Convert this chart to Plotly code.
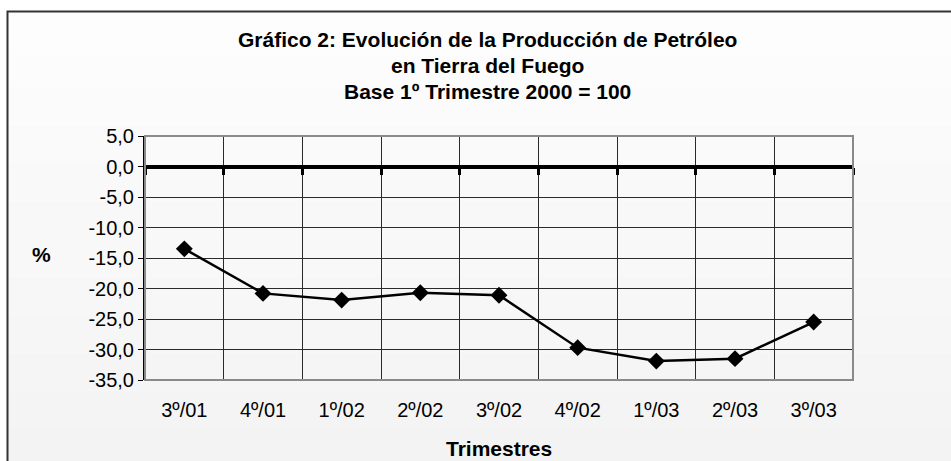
import numpy as np
import plotly.graph_objects as go

categories = ["3º/01", "4º/01", "1º/02", "2º/02", "3º/02", "4º/02", "1º/03", "2º/03", "3º/03"]
values = [-13.5, -20.8, -21.9, -20.7, -21.1, -29.7, -31.9, -31.5, -25.5]
y_ticks = [5, 0, -5, -10, -15, -20, -25, -30, -35]
y_tick_labels = ["5,0", "0,0", "-5,0", "-10,0", "-15,0", "-20,0", "-25,0", "-30,0", "-35,0"]
title_lines = ["Gráfico 2: Evolución de la Producción de Petróleo",
               "en Tierra del Fuego",
               "Base 1º Trimestre 2000 = 100"]
y_title = "%"
x_title = "Trimestres"

W, H = 951, 461
L, R, T, B = 145, 98, 136, 81
pw, ph = W - L - R, H - T - B

def px(xp):
    return (xp - L) / pw

def py(yp):
    return (H - B - yp) / ph

idx = np.arange(len(categories))
bounds = np.arange(len(categories) + 1) - 0.5
ymin, ymax = min(y_ticks), max(y_ticks)

FONT = "Liberation Sans, Arial, sans-serif"

fig = go.Figure()
fig.add_trace(go.Scatter(
    x=idx, y=values, mode="lines+markers",
    line=dict(color="black", width=2.5),
    marker=dict(symbol="diamond", size=13, color="black"),
    showlegend=False, hoverinfo="skip",
))
# invisible helper trace for the zero-line tick axis
fig.add_trace(go.Scatter(
    x=[0], y=[0], xaxis="x2", mode="markers",
    marker=dict(opacity=0), showlegend=False, hoverinfo="skip",
))

shapes = []
# background gradient inside outer frame
x0p, x1p = px(7), px(W + 5)
top_px, bot_px = 11, H + 5
n = 12
for i in range(n):
    ya = top_px + (bot_px - top_px) * i / n
    yb = top_px + (bot_px - top_px) * (i + 1) / n
    c = int(round(253 - 10 * (i + 0.5) / n))
    shapes.append(dict(type="rect", xref="paper", yref="paper",
                       x0=x0p, x1=x1p, y0=py(ya), y1=py(yb),
                       fillcolor=f"rgb({c},{c},{c})", line=dict(width=0),
                       layer="below"))
# outer frame
shapes.append(dict(type="rect", xref="paper", yref="paper",
                   x0=px(7.5), x1=px(W + 5), y0=py(11.5), y1=py(H + 5),
                   line=dict(color="#333333", width=2), layer="below"))
# plot area border (gray)
shapes.append(dict(type="rect", xref="paper", yref="paper",
                   x0=0, x1=1, y0=0, y1=1,
                   line=dict(color="#8a8a8a", width=2), layer="above"))

annotations = []
for i, t in enumerate(title_lines):
    annotations.append(dict(text=f"<b>{t}</b>", xref="paper", yref="paper",
                            x=px(487), y=py(39 + 26 * i), xanchor="center", yanchor="middle",
                            showarrow=False, font=dict(family=FONT, size=21, color="black")))
annotations.append(dict(text=f"<b>{y_title}</b>", xref="paper", yref="paper",
                        x=px(41), y=py(254), xanchor="center", yanchor="middle",
                        showarrow=False, font=dict(family=FONT, size=21, color="black")))
annotations.append(dict(text=f"<b>{x_title}</b>", xref="paper", yref="paper",
                        x=px(498.5), y=py(448), xanchor="center", yanchor="middle",
                        showarrow=False, font=dict(family=FONT, size=21, color="black")))

fig.update_layout(
    width=W, height=H,
    margin=dict(l=L, r=R, t=T, b=B, pad=0),
    paper_bgcolor="white", plot_bgcolor="white",
    font=dict(family=FONT, size=20, color="black"),
    shapes=shapes, annotations=annotations,
    xaxis=dict(
        range=[bounds[0], bounds[-1]], tickmode="array",
        tickvals=idx, ticktext=categories,
        showgrid=False, zeroline=False, showline=False,
        ticks="", ticklabelstandoff=16,
        minor=dict(tickmode="array", tickvals=bounds, showgrid=True,
                   gridcolor="#2a2a2a", gridwidth=1, ticks=""),
        tickfont=dict(family=FONT, size=20, color="black"),
        fixedrange=True,
    ),
    xaxis2=dict(
        overlaying="x", anchor="free", position=(0 - ymin) / (ymax - ymin),
        matches="x", tickmode="array", tickvals=bounds,
        ticks="outside", ticklen=7, tickwidth=3, tickcolor="black",
        showticklabels=False, showgrid=False, zeroline=False, showline=False,
        side="bottom",
    ),
    yaxis=dict(
        range=[ymin, ymax], tickmode="array", tickvals=y_ticks,
        ticktext=y_tick_labels,
        showgrid=True, gridcolor="#2a2a2a", gridwidth=1,
        zeroline=True, zerolinecolor="black", zerolinewidth=4,
        showline=True, linecolor="black", linewidth=2,
        ticks="outside", ticklen=5, tickcolor="black", tickwidth=1,
        ticklabelstandoff=0,
        tickfont=dict(family=FONT, size=20, color="black"),
        fixedrange=True,
    ),
)

fig.write_html("out.html",
               config={"displayModeBar": False},
               post_script="document.body.style.margin='0';document.body.style.padding='0';document.body.style.overflow='hidden';")
